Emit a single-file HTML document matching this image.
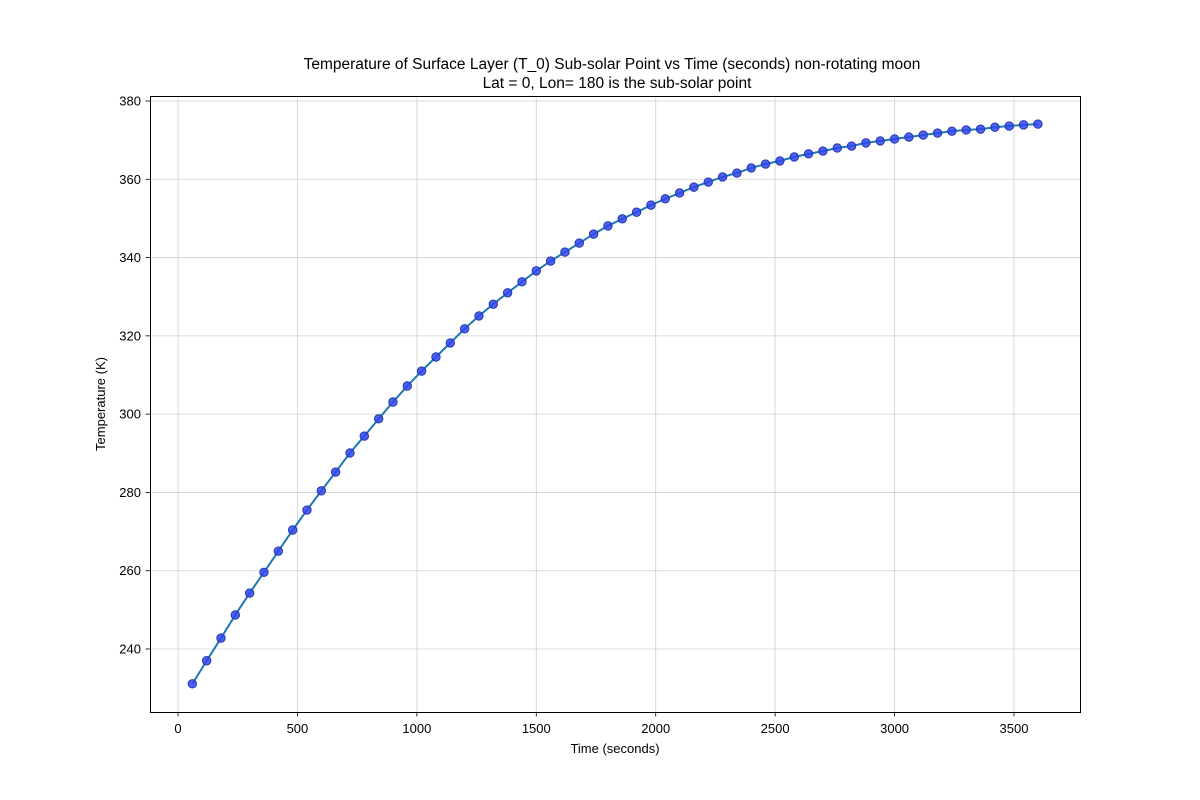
<!DOCTYPE html>
<html><head><meta charset="utf-8"><style>
html,body{margin:0;padding:0;background:#fff;}
svg{display:block;font-family:"Liberation Sans","DejaVu Sans",sans-serif;}
</style></head><body>
<svg id="chart" width="1200" height="800" viewBox="0 0 1200 800">
<rect width="1200" height="800" fill="#fff"/>
<text x="612" y="69" text-anchor="middle" font-size="15.5">Temperature of Surface Layer (T_0) Sub-solar Point vs Time (seconds) non-rotating moon</text>
<text x="617" y="88" text-anchor="middle" font-size="15.5">Lat = 0, Lon= 180 is the sub-solar point</text>
<g id="grid"></g>
<g id="series"></g>
<rect x="150.5" y="96.5" width="930" height="616" fill="none" stroke="#000" stroke-width="1"/>
<g id="xticks"></g>
<g id="yticks"></g>
<text x="615" y="753" text-anchor="middle" font-size="13">Time (seconds)</text>
<text x="105" y="404" text-anchor="middle" font-size="13" transform="rotate(-90 105 404)">Temperature (K)</text>
</svg>
<script>
const times = [60,120,180,240,300,360,420,480,540,600,660,720,780,840,900,960,1020,1080,1140,1200,1260,1320,1380,1440,1500,1560,1620,1680,1740,1800,1860,1920,1980,2040,2100,2160,2220,2280,2340,2400,2460,2520,2580,2640,2700,2760,2820,2880,2940,3000,3060,3120,3180,3240,3300,3360,3420,3480,3540,3600];
const temps = [231.1,237,242.8,248.7,254.3,259.6,265,270.4,275.5,280.4,285.2,290.1,294.4,298.8,303.1,307.2,311,314.6,318.2,321.8,325.1,328.1,331,333.8,336.6,339.1,341.4,343.7,346,348.1,349.9,351.6,353.4,355,356.5,358,359.3,360.6,361.6,362.9,363.9,364.7,365.7,366.5,367.2,368,368.5,369.3,369.8,370.3,370.8,371.3,371.8,372.3,372.6,372.8,373.3,373.6,373.9,374.1];
const xTickVals = [0,500,1000,1500,2000,2500,3000,3500];
const yTickVals = [240,260,280,300,320,340,360,380];

const NS="http://www.w3.org/2000/svg";
function xs(v){return 178+v*(1014-178)/3500;}
function ys(v){return 649-(v-240)*(649-101)/140;}
function mk(tag,attrs,parent){const e=document.createElementNS(NS,tag);for(const k in attrs)e.setAttribute(k,attrs[k]);parent.appendChild(e);return e;}
const grid=document.getElementById('grid'),xt=document.getElementById('xticks'),yt=document.getElementById('yticks'),ser=document.getElementById('series');
xTickVals.forEach(v=>{
  const x=xs(v);
  const g=mk('line',{x1:x,x2:x,y1:96,y2:712,stroke:'#b0b0b0','stroke-opacity':0.6,'stroke-width':0.8},grid);
  
  
  const t=mk('line',{x1:x,x2:x,y1:712,y2:716.5,stroke:'#000','stroke-width':0.8},xt);
  
  
  const l=mk('text',{x:x,y:733,'text-anchor':'middle','font-size':13},xt);
  l.textContent=v;
  
  
});
yTickVals.forEach(v=>{
  const y=ys(v);
  const g=mk('line',{x1:150,x2:1080,y1:y,y2:y,stroke:'#b0b0b0','stroke-opacity':0.6,'stroke-width':0.8},grid);
  
  
  const t=mk('line',{x1:145.5,x2:150,y1:y,y2:y,stroke:'#000','stroke-width':0.8},yt);
  
  
  const l=mk('text',{x:141,y:y+4.5,'text-anchor':'end','font-size':13},yt);
  l.textContent=v;
  
  
});
const pts=times.map((t,i)=>xs(t).toFixed(2)+','+ys(temps[i]).toFixed(2)).join(' ');
const pl=mk('polyline',{points:pts,fill:'none',stroke:'#1f77b4','stroke-width':2},ser);


times.forEach((t,i)=>{
  const c=mk('circle',{cx:xs(t),cy:ys(temps[i]),r:4.2,fill:'#2f45f0','fill-opacity':0.85,stroke:'#2438a8','stroke-width':1},ser);
  
  
});
</script>
</body></html>
